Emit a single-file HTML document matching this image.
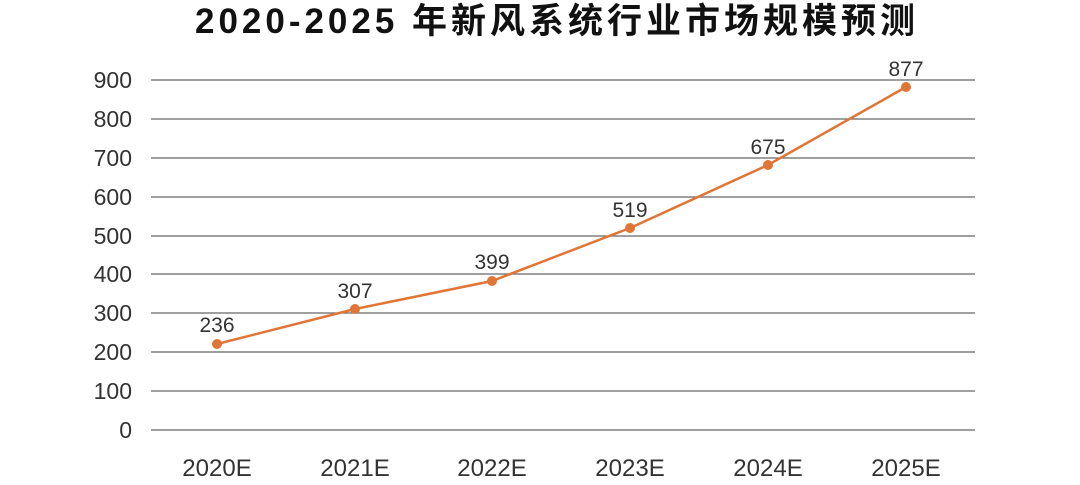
<!DOCTYPE html>
<html><head><meta charset="utf-8"><style>
body{margin:0;background:#fff;width:1080px;height:480px;overflow:hidden}
</style></head><body>
<svg width="1080" height="480" xmlns="http://www.w3.org/2000/svg" font-family="Liberation Sans, Noto Sans CJK SC, sans-serif">
<text x="195" y="33" textLength="720" lengthAdjust="spacing" font-size="35" font-weight="bold" fill="#111" font-family="Liberation Sans, Noto Sans CJK SC, sans-serif">2020-2025 年新风系统行业市场规模预测</text>
<g stroke="#666" stroke-width="1.2">
<line x1="151" x2="975" y1="80" y2="80"/><line x1="151" x2="975" y1="119" y2="119"/>
<line x1="151" x2="975" y1="158" y2="158"/><line x1="151" x2="975" y1="197" y2="197"/>
<line x1="151" x2="975" y1="236" y2="236"/><line x1="151" x2="975" y1="274" y2="274"/>
<line x1="151" x2="975" y1="313" y2="313"/><line x1="151" x2="975" y1="352" y2="352"/>
<line x1="151" x2="975" y1="391" y2="391"/><line x1="151" x2="975" y1="430" y2="430"/>
</g>
<g font-size="23" fill="#333" text-anchor="end">
<text x="132" y="88">900</text><text x="132" y="127">800</text><text x="132" y="166">700</text>
<text x="132" y="205">600</text><text x="132" y="244">500</text><text x="132" y="282">400</text>
<text x="132" y="321">300</text><text x="132" y="360">200</text><text x="132" y="399">100</text>
<text x="132" y="438">0</text>
</g>
<g font-size="24" fill="#333" text-anchor="middle">
<text x="217" y="476">2020E</text><text x="355" y="476">2021E</text><text x="492" y="476">2022E</text>
<text x="630" y="476">2023E</text><text x="768" y="476">2024E</text><text x="906" y="476">2025E</text>
</g>
<polyline points="217,344 355,309 492,281 630,228 768,165 906,87" fill="none" stroke="#e07535" stroke-width="2.5"/>
<g fill="#e07535">
<circle cx="217" cy="344" r="5"/><circle cx="355" cy="309" r="5"/><circle cx="492" cy="281" r="5"/>
<circle cx="630" cy="228" r="5"/><circle cx="768" cy="165" r="5"/><circle cx="906" cy="87" r="5"/>
</g>
<g font-size="21" fill="#333" text-anchor="middle">
<text x="217" y="332">236</text><text x="355" y="298">307</text><text x="492" y="269">399</text>
<text x="630" y="217">519</text><text x="768" y="154">675</text><text x="906" y="76">877</text>
</g>
</svg>
</body></html>
